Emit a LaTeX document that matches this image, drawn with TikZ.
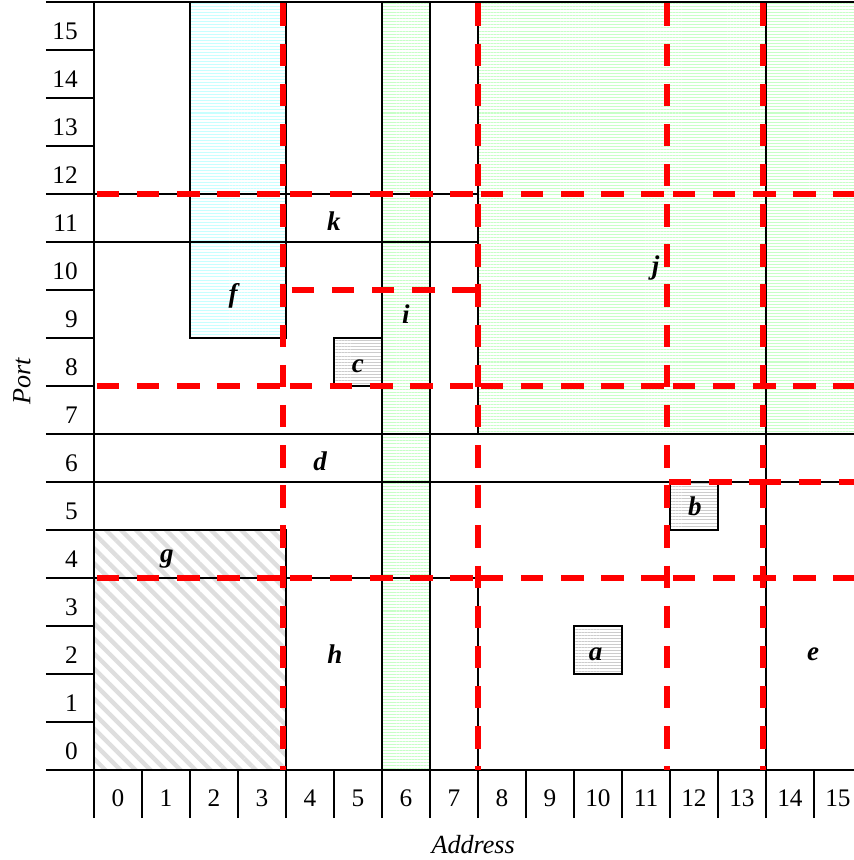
\documentclass[tikz,border=0pt]{standalone}
\usepackage{fontspec}
\setmainfont{Liberation Serif}
\usetikzlibrary{patterns.meta}
\begin{document}
\begin{tikzpicture}[x=1cm,y=1cm,
  blk/.style={line width=1.4pt, draw=black},
  rdash/.style={draw=red, line width=3.1pt, dash pattern=on 13.3pt off 10.5pt},
  num/.style={font=\fontsize{15}{15}\selectfont, inner sep=0pt},
  lab/.style={font=\fontsize{16}{16}\selectfont\bfseries\itshape, inner sep=0pt, anchor=base},
  axlab/.style={font=\fontsize{15.5}{15.5}\selectfont\itshape, inner sep=0pt},
  cyanfill/.style={pattern={Lines[angle=0,distance=1.8pt,line width=0.6pt]}, pattern color=cyan!22},
  greenfill/.style={pattern={Lines[angle=0,distance=1.8pt,line width=0.6pt]}, pattern color=green!22},
  grayfill/.style={pattern={Lines[angle=0,distance=1.8pt,line width=0.5pt]}, pattern color=black!20},
  diagfill/.style={pattern={Lines[angle=-45,distance=6.3pt,line width=2.6pt]}, pattern color=black!13},
]
\clip (-1.958,-1.875) rectangle (15.833,16.042);
% region fills
\fill[cyanfill] (2,9) rectangle (4,16);
\fill[greenfill] (6,0) rectangle (7,16);
\fill[greenfill] (8,7) rectangle (16,16);
\fill[diagfill] (0,0) rectangle (4,5);
\fill[grayfill] (10,2) rectangle (11,3);
\fill[grayfill] (12,5) rectangle (13,6);
\fill[grayfill] (5,8) rectangle (6,9);
% axes and ticks
\draw[blk] (-1,16) -- (16,16);
\draw[blk] (-1,0) -- (16,0);
\draw[blk] (0,-1) -- (0,16);
\foreach \k in {1,...,15} {\draw[blk] (-1,\k) -- (0,\k);}
\foreach \k in {1,...,15} {\draw[blk] (\k,-1) -- (\k,0);}
% region outlines
\draw[blk] (0,12) -- (8,12);
\draw[blk] (0,11) -- (8,11);
\draw[blk] (2,16) -- (2,9) -- (4,9) -- (4,16);
\draw[blk] (6,0) -- (6,16);
\draw[blk] (7,0) -- (7,16);
\draw[blk] (8,16) -- (8,7);
\draw[blk] (8,4) -- (8,0);
\draw[blk] (0,7) -- (16,7);
\draw[blk] (0,6) -- (16,6);
\draw[blk] (0,5) -- (4,5) -- (4,0);
\draw[blk] (0,4) -- (8,4);
\draw[blk] (14,0) -- (14,16);
\draw[blk] (10,2) rectangle (11,3);
\draw[blk] (12,5) rectangle (13,6);
\draw[blk] (5,8) rectangle (6,9);
% red dashed partition
\foreach \y in {4,8,12} {
  \draw[rdash] (0.06,\y) -- (3.94,\y);
  \draw[rdash] (4.08,\y) -- (8,\y);
  \draw[rdash] (8.06,\y) -- (11.94,\y);
  \draw[rdash] (12.06,\y) -- (16,\y);
}
\draw[rdash] (4.12,10) -- (8,10);
\draw[rdash] (11.98,6) -- (13.94,6);
\draw[rdash] (13.85,6) -- (16,6);
\draw[rdash] (3.94,15.97) -- (3.94,0);
\draw[rdash] (8,15.97) -- (8,0);
\draw[rdash] (11.94,15.97) -- (11.94,0);
\draw[rdash] (13.94,15.97) -- (13.94,0);
% axis numbers
\foreach \k in {0,...,15} {\node[num, anchor=base east] (p\k) at (-0.33,\k+0.22) {\k};}
\foreach \k in {0,...,15} {\node[num, anchor=base] (x\k) at (\k+0.5,-0.77) {\k};}
\node[axlab, rotate=90] (portlab) at (-1.5,8.1) {Port};
\node[axlab, anchor=base] (addrlab) at (7.9,-1.73) {Address};
% region labels
\node[lab] (la) at (10.45,2.29) {a};
\node[lab] (lb) at (12.52,5.31) {b};
\node[lab] (lc) at (5.5,8.29) {c};
\node[lab] (ld) at (4.71,6.23) {d};
\node[lab] (le) at (14.98,2.29) {e};
\node[lab] (lf) at (2.9,9.75) {f};
\node[lab] (lg) at (1.52,4.33) {g};
\node[lab] (lh) at (5.02,2.21) {h};
\node[lab] (li) at (6.5,9.31) {i};
\node[lab] (lj) at (11.7,10.33) {j};
\node[lab] (lk) at (5.0,11.25) {k};
\end{tikzpicture}
\end{document}
